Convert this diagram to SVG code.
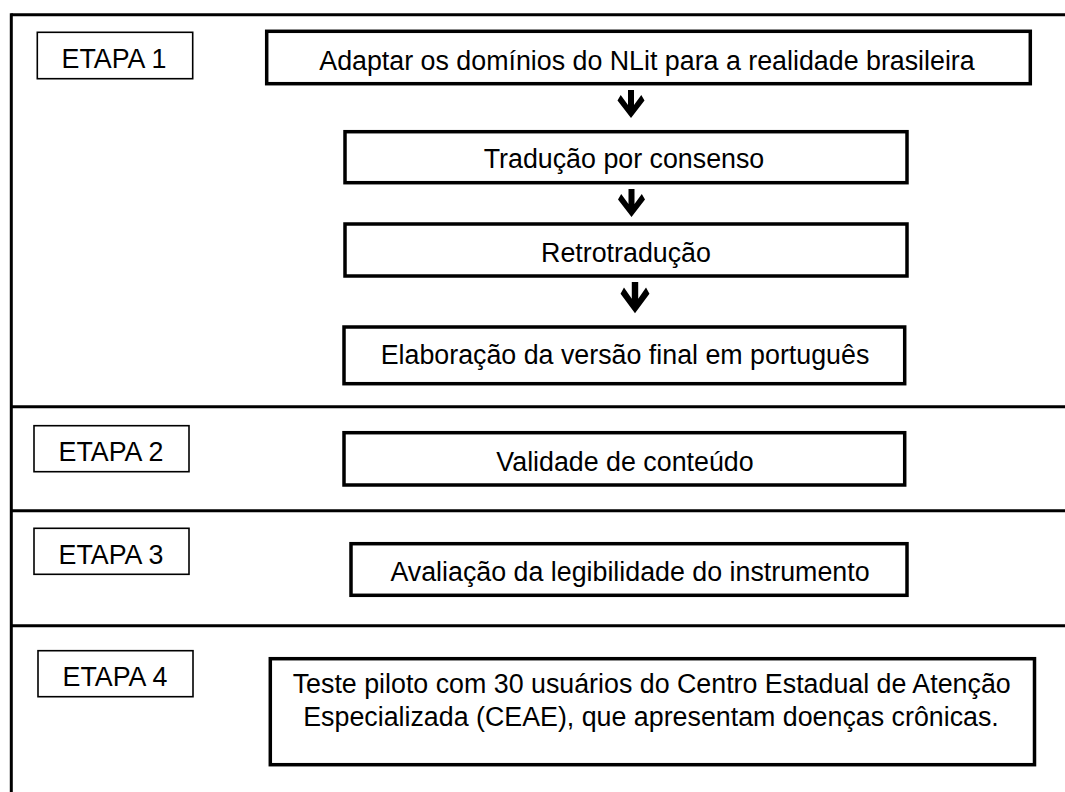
<svg xmlns="http://www.w3.org/2000/svg" width="1065" height="792" viewBox="0 0 1065 792">
<style>
.frame{stroke:#000;stroke-width:3;fill:none}
.etapa{fill:#fff;stroke:#000;stroke-width:1.6}
.box{fill:#fff;stroke:#000;stroke-width:3.5}
.t{font-family:"Liberation Sans",Arial,sans-serif;font-size:26.8px;fill:#000;text-anchor:middle}
.arrow{fill:#000}
</style>
<defs>
<path id="arr" d="M-3,0 L3,0 L3,15 L10.3,5 L13.5,10.5 L0,28 L-13.5,10.5 L-10.3,5 L-3,15 Z"/>
</defs>
<rect width="1065" height="792" fill="#fff"/>
<g id="frame">
<line class="frame" x1="11.3" y1="14.7" x2="1065" y2="14.7"/>
<line class="frame" x1="11.3" y1="13.2" x2="11.3" y2="792"/>
<line class="frame" x1="11.3" y1="406.7" x2="1065" y2="406.7"/>
<line class="frame" x1="11.3" y1="510.7" x2="1065" y2="510.7"/>
<line class="frame" x1="11.3" y1="625.7" x2="1065" y2="625.7"/>
</g>
<g id="connectors">
<use href="#arr" class="arrow" transform="translate(631,90)"/>
<use href="#arr" class="arrow" transform="translate(631.5,189)"/>
<use href="#arr" class="arrow" transform="translate(635,282) scale(1.07,1.12)"/>
</g>
<g id="etapa1"><rect class="etapa" x="37.3" y="32.3" width="155.4" height="46.4"/><text class="t" x="114" y="68">ETAPA 1</text></g>
<g id="etapa2"><rect class="etapa" x="34" y="425.7" width="155" height="46"/><text class="t" x="111" y="461.2">ETAPA 2</text></g>
<g id="etapa3"><rect class="etapa" x="34" y="528.3" width="155" height="46"/><text class="t" x="111" y="563.5">ETAPA 3</text></g>
<g id="etapa4"><rect class="etapa" x="38" y="650.7" width="155" height="46"/><text class="t" x="115" y="686">ETAPA 4</text></g>
<g id="adaptar"><rect class="box" x="266.7" y="31.3" width="763.6" height="52.4"/><text class="t" x="647" y="69.8">Adaptar os domínios do NLit para a realidade brasileira</text></g>
<g id="traducao"><rect class="box" x="345" y="131.7" width="562" height="51"/><text class="t" x="624" y="168">Tradução por consenso</text></g>
<g id="retrotraducao"><rect class="box" x="345" y="224" width="562" height="52"/><text class="t" x="626" y="261.5">Retrotradução</text></g>
<g id="elaboracao"><rect class="box" x="344" y="327" width="560.7" height="56.7"/><text class="t" x="625" y="363.5">Elaboração da versão final em português</text></g>
<g id="validade"><rect class="box" x="344" y="432.7" width="560.7" height="52.3"/><text class="t" x="625" y="470.5">Validade de conteúdo</text></g>
<g id="avaliacao"><rect class="box" x="351" y="543.7" width="556" height="51.6"/><text class="t" x="630" y="580.5">Avaliação da legibilidade do instrumento</text></g>
<g id="teste"><rect class="box" x="270.3" y="658.7" width="764.2" height="106"/><text class="t" x="651.7" y="692.5">Teste piloto com 30 usuários do Centro Estadual de Atenção</text><text class="t" x="651" y="726">Especializada (CEAE), que apresentam doenças crônicas.</text></g>
</svg>
